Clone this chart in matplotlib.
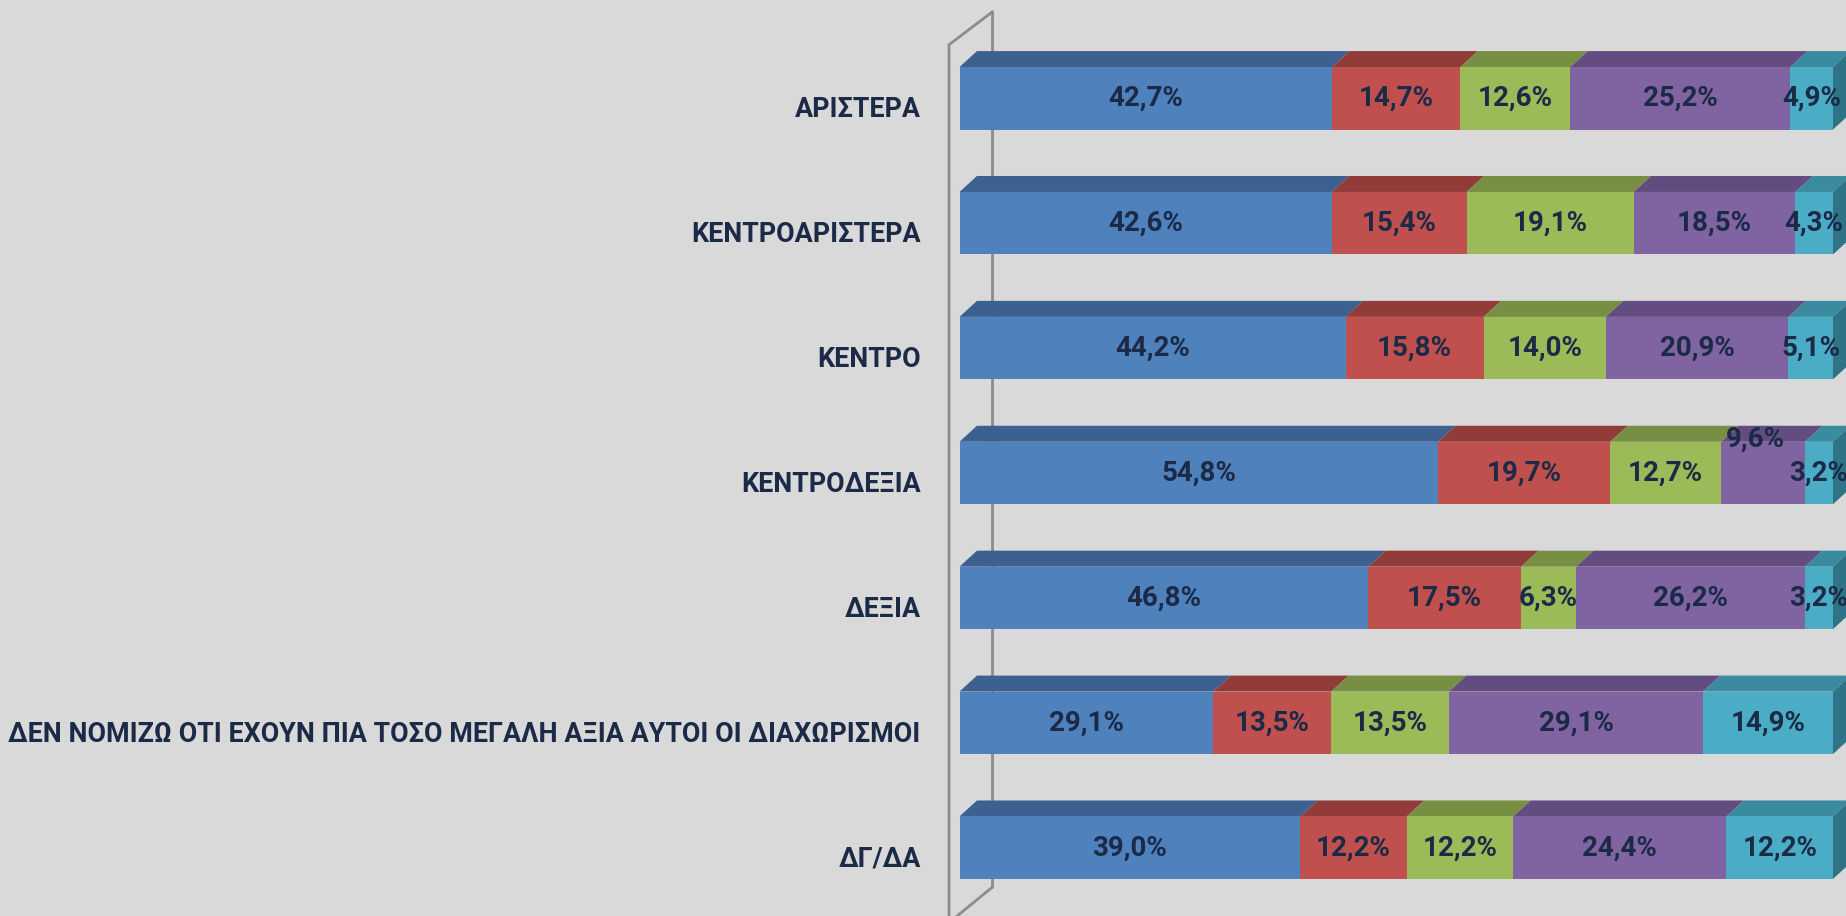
import matplotlib
matplotlib.use("Agg")
import matplotlib.pyplot as plt
from matplotlib.patches import Polygon
import matplotlib.transforms as mtransforms
import numpy as np

categories = ["ΑΡΙΣΤΕΡΑ", "ΚΕΝΤΡΟΑΡΙΣΤΕΡΑ", "ΚΕΝΤΡΟ", "ΚΕΝΤΡΟΔΕΞΙΑ", "ΔΕΞΙΑ",
              "ΔΕΝ ΝΟΜΙΖΩ ΟΤΙ ΕΧΟΥΝ ΠΙΑ ΤΟΣΟ ΜΕΓΑΛΗ ΑΞΙΑ ΑΥΤΟΙ ΟΙ ΔΙΑΧΩΡΙΣΜΟΙ", "ΔΓ/ΔΑ"]
s1 = [42.7, 42.6, 44.2, 54.8, 46.8, 29.1, 39.0]
s2 = [14.7, 15.4, 15.8, 19.7, 17.5, 13.5, 12.2]
s3 = [12.6, 19.1, 14.0, 12.7, 6.3, 13.5, 12.2]
s4 = [25.2, 18.5, 20.9, 9.6, 26.2, 29.1, 24.4]
s5 = [4.9, 4.3, 5.1, 3.2, 3.2, 14.9, 12.2]
series = [s1, s2, s3, s4, s5]

front_colors = ["#4F81BD", "#C0504D", "#9BBB59", "#8064A2", "#4BACC6"]
top_colors = ["#3C6190", "#923C3A", "#778F42", "#634C80", "#3A8AA0"]
side_color = "#2E7486"
text_color = "#1B2A47"
bg = "#D9D9D9"
wall_color = "#8C8C8C"

plt.rcParams['font.family'] = ['Roboto', 'DejaVu Sans']

fig = plt.figure(figsize=(18.46, 9.16), dpi=100, facecolor=bg)
ax = fig.add_axes([959.5 / 1846, 0, (1833 - 959.5) / 1846, 1])
ax.set_facecolor(bg)
ax.set_xlim(0, 100)
ax.set_ylim(6.547, -0.787)
for sp in ax.spines.values():
    sp.set_visible(False)
ax.set_xticks([])

y = np.arange(len(categories))
h = 0.5
dx, dy = 2.0, 0.128

# wall lines
ax.plot([-1.2, -1.2, 3.78, 3.78], [6.6, -0.429, -0.693, 6.315], color=wall_color,
        lw=2, clip_on=False, zorder=1)
ax.plot([-1.2, 3.78], [6.6, 6.315], color=wall_color, lw=2, clip_on=False, zorder=1)

data = np.array(series)
totals = data.sum(axis=0)
norm = data / totals * 100
left = np.zeros(len(categories))
for k in range(len(series)):
    ax.barh(y, norm[k], left=left, height=h, color=front_colors[k], zorder=3,
            linewidth=0)
    for i in range(len(categories)):
        l, r = left[i], left[i] + norm[k][i]
        yt = y[i] - h / 2
        ax.add_patch(Polygon([(l, yt), (r, yt), (r + dx, yt - dy), (l + dx, yt - dy)],
                             closed=True, facecolor=top_colors[k], edgecolor='none',
                             zorder=2, clip_on=False))
    left = left + norm[k]

# right side faces
for i in range(len(categories)):
    yt = y[i] - h / 2
    yb = y[i] + h / 2
    ax.add_patch(Polygon([(100, yt), (100 + dx, yt - dy), (100 + dx, yb - dy), (100, yb)],
                         closed=True, facecolor=side_color, edgecolor='none',
                         zorder=2, clip_on=False))

# value labels
label_offsets = {(3, 3): (-0.9, -0.27)}
left = np.zeros(len(categories))
for k in range(len(series)):
    for i in range(len(categories)):
        cx = left[i] + norm[k][i] / 2
        ox, oy = label_offsets.get((i, k), (0, 0))
        txt = f"{series[k][i]:.1f}%".replace(".", ",")
        ax.text(cx + ox, y[i] + oy, txt, ha='center', va='center', fontsize=20,
                fontweight='bold', color=text_color, zorder=5, clip_on=False)
    left = left + norm[k]

ax.set_yticks(y)
ax.set_yticklabels(categories, fontsize=19.4, fontweight='bold', color=text_color)
ax.tick_params(axis='y', length=0, pad=28)
shift = mtransforms.ScaledTranslation(0, -6 / 72, fig.dpi_scale_trans)
for lab in ax.get_yticklabels():
    lab.set_transform(lab.get_transform() + shift)

fig.savefig("out.png", dpi=100, facecolor=bg)
